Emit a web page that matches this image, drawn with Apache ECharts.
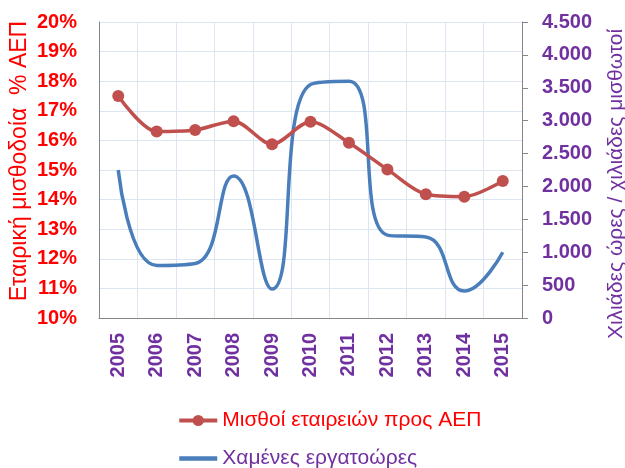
<!DOCTYPE html>
<html>
<head>
<meta charset="utf-8">
<script src="https://cdn.jsdelivr.net/npm/echarts@6/dist/echarts.min.js"></script>
<style>
  html, body { margin: 0; padding: 0; background: #fff; }
  #chart { width: 625px; height: 468px; }
</style>
</head>
<body>
<div id="chart"></div>
<script>
// data
const years = ["2005", "2006", "2007", "2008", "2009", "2010", "2011", "2012", "2013", "2014", "2015"];
const wageShare = [17.5, 16.3, 16.35, 16.65, 15.87, 16.63, 15.92, 15.02, 14.18, 14.1, 14.63];
const lostHours = [2250, 800, 830, 2160, 440, 3550, 3600, 1260, 1230, 410, 1000];
const wageName = "Μισθοί εταιρειών προς ΑΕΠ";
const hoursName = "Χαμένες εργατοώρες";
const leftTitle = "Εταιρική μισθοδοία  % ΑΕΠ";
const rightTitle = "Χιλιάδες ώρες / χιλιάδες μισθωτοί";

const RED_TXT = "#FF0000";
const PURPLE = "#7030A0";
const FONT = "Liberation Sans";

// 4500 -> "4.500"
function dotThousands(v) {
  return String(v).replace(/\B(?=(\d{3})+(?!\d))/g, ".");
}

const chart = echarts.init(document.getElementById("chart"));
chart.setOption({
  animation: false,
  textStyle: { fontFamily: FONT },
  grid: { left: 99, right: 103, top: 22, bottom: 150, outerBoundsMode: "none" },
  // left axis title drawn by hand, the axis name kept getting pushed to the edge
  graphic: [
    {
      type: "text",
      x: 20,
      y: 161,
      rotation: Math.PI / 2,
      style: {
        text: leftTitle,
        fill: RED_TXT,
        font: "23px 'Liberation Sans'",
        align: "center",
        verticalAlign: "middle",
      },
    },
  ],
  legend: {
    orient: "vertical",
    left: 172,
    top: 405,
    height: 120,
    itemWidth: 38,
    itemHeight: 14,
    itemGap: 17,
    textStyle: { fontSize: 21, fontFamily: FONT },
    data: [
      { name: wageName, textStyle: { color: RED_TXT }, lineStyle: { width: 4 } },
      { name: hoursName, textStyle: { color: PURPLE }, itemStyle: { opacity: 0 }, lineStyle: { width: 4.5 } },
    ],
  },
  xAxis: {
    type: "category",
    data: years,
    boundaryGap: true,
    axisLine: { lineStyle: { color: "#868686", width: 1 } },
    axisTick: { show: false },
    axisLabel: {
      rotate: 90,
      margin: 15,
      color: PURPLE,
      fontSize: 20,
      fontWeight: "bold",
      interval: 0,
    },
    splitLine: { show: true, lineStyle: { color: "#DCE6F2", width: 1 } },
  },
  yAxis: [
    {
      type: "value",
      min: 10,
      max: 20,
      interval: 1,
      position: "left",
      axisLine: { show: true, lineStyle: { color: "#868686" } },
      axisTick: { show: false },
      axisLabel: {
        formatter: "{value}%",
        color: RED_TXT,
        fontSize: 20,
        fontWeight: "bold",
        margin: 22,
      },
      splitLine: { show: true, lineStyle: { color: "#DCE6F2", width: 1 } },
    },
    {
      type: "value",
      min: 0,
      max: 4500,
      interval: 500,
      position: "right",
      name: rightTitle,
      nameLocation: "middle",
      nameRotate: 90,
      nameGap: 84,
      nameTextStyle: { color: PURPLE, fontSize: 21, padding: [0, 28, 0, 0] },
      axisLine: { show: true, lineStyle: { color: "#868686" } },
      axisTick: { show: true, length: 6, lineStyle: { color: "#868686" } },
      axisLabel: {
        formatter: dotThousands,
        color: PURPLE,
        fontSize: 20,
        fontWeight: "bold",
        margin: 20,
      },
      splitLine: { show: false },
    },
  ],
  series: [
    {
      name: hoursName,
      type: "line",
      yAxisIndex: 1,
      data: lostHours,
      smooth: 0.5,
      symbol: "none",
      lineStyle: { color: "#4A7EBB", width: 3.5 },
      itemStyle: { color: "#4A7EBB" },
    },
    {
      name: wageName,
      type: "line",
      yAxisIndex: 0,
      data: wageShare,
      smooth: 0.3,
      symbol: "circle",
      symbolSize: 12,
      lineStyle: { color: "#C0504D", width: 3.5 },
      itemStyle: { color: "#C0504D" },
    },
  ],
});
</script>
</body>
</html>
